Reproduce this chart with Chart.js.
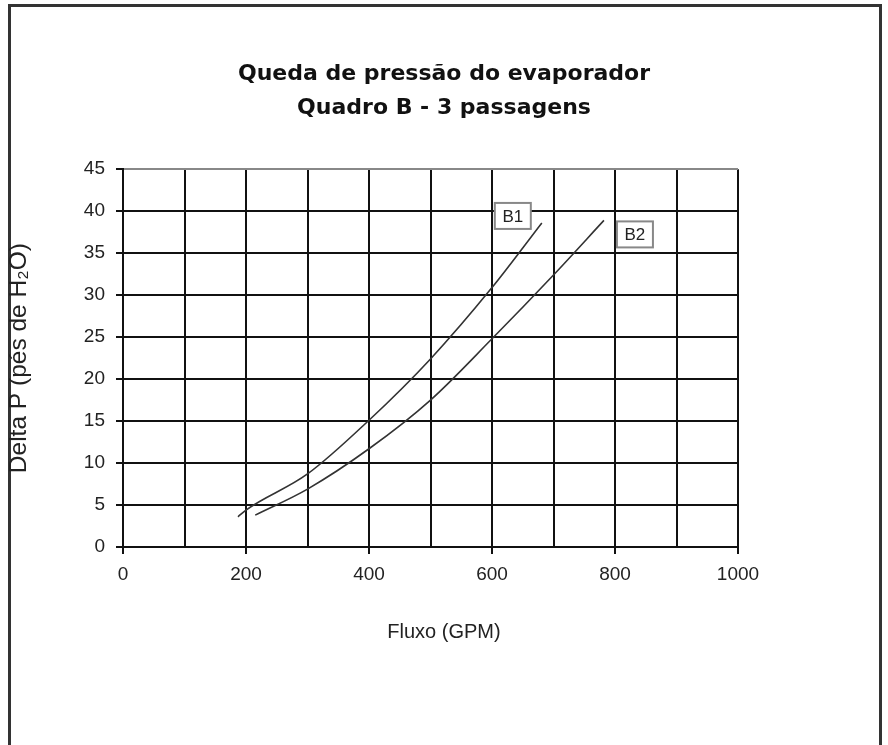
<!DOCTYPE html>
<html>
<head>
<meta charset="utf-8">
<script src="https://cdn.jsdelivr.net/npm/chart.js@4.4.1/dist/chart.umd.min.js"></script>
<style>
  html, body { margin: 0; padding: 0; background: #fff; }
  #wrap { position: relative; width: 888px; height: 745px; overflow: hidden; }
  #frame { position: absolute; left: 8px; top: 4px; width: 874px; height: 800px; border: 3px solid #333; box-sizing: border-box; }
  canvas { position: absolute; left: 0; top: 0; }
</style>
</head>
<body>
<div id="wrap">
  <div id="frame"></div>
  <canvas id="c" width="888" height="745"></canvas>
</div>
<script>
// ---- data ----
const titleLines = ['Queda de pressão do evaporador', 'Quadro B - 3 passagens'];
const xTitle = 'Fluxo (GPM)';
const yTitle = 'Delta P (pés de H\u2082O)';
const seriesNames = ['B1', 'B2'];

const b1Flow  = [187, 200, 300, 400, 500, 600, 681];
const b1Delta = [3.6, 4.4, 8.7, 15.1, 22.4, 30.9, 38.6];

const b2Flow  = [215, 300, 400, 500, 600, 700, 782];
const b2Delta = [3.8, 6.9, 11.7, 17.5, 24.8, 32.4, 38.9];

const xMin = 0, xMax = 1000, xStep = 100, xLabelStep = 200;
const yMin = 0, yMax = 45, yStep = 5;

function toPoints(xs, ys) { return xs.map((x, i) => ({ x: x, y: ys[i] })); }

// series label boxes (anchored to the last point of each curve, offset in px)
const seriesLabelOffsets = [{ dx: -29, dy: -7 }, { dx: 31, dy: 14 }];

const seriesLabelPlugin = {
  id: 'seriesLabels',
  afterDatasetsDraw(chart) {
    const ctx = chart.ctx;
    const xs = chart.scales.x, ys = chart.scales.y;
    chart.data.datasets.forEach((ds, i) => {
      const last = ds.data[ds.data.length - 1];
      const px = xs.getPixelForValue(last.x) + seriesLabelOffsets[i].dx;
      const py = ys.getPixelForValue(last.y) + seriesLabelOffsets[i].dy;
      const w = 36, h = 26;
      ctx.save();
      ctx.fillStyle = '#fff';
      ctx.fillRect(px - w / 2, py - h / 2, w, h);
      ctx.strokeStyle = '#888';
      ctx.lineWidth = 2;
      ctx.strokeRect(px - w / 2, py - h / 2, w, h);
      ctx.fillStyle = '#222';
      ctx.font = '17px "Liberation Sans", Arial, sans-serif';
      ctx.textAlign = 'center';
      ctx.textBaseline = 'middle';
      ctx.fillText(ds.label, px, py + 1);
      ctx.restore();
    });
  }
};

// x axis title centred on the whole figure (as in the reference)
const xTitlePlugin = {
  id: 'xTitleCentered',
  afterDraw(chart) {
    const ctx = chart.ctx;
    ctx.save();
    ctx.fillStyle = '#222';
    ctx.font = '20px "Liberation Sans", Arial, sans-serif';
    ctx.textAlign = 'center';
    ctx.textBaseline = 'middle';
    ctx.fillText(xTitle, chart.width / 2, chart.scales.x.bottom - 113);
    ctx.restore();
  }
};

const gridColor = '#111';

new Chart(document.getElementById('c'), {
  type: 'scatter',
  data: {
    datasets: [
      { label: seriesNames[0], data: toPoints(b1Flow, b1Delta) },
      { label: seriesNames[1], data: toPoints(b2Flow, b2Delta) }
    ].map(d => Object.assign(d, {
      showLine: true,
      borderColor: '#333',
      borderWidth: 1.6,
      pointRadius: 0,
      fill: false,
      cubicInterpolationMode: 'monotone'
    }))
  },
  options: {
    responsive: false,
    animation: false,
    events: [],
    layout: { padding: 0 },
    plugins: {
      legend: { display: false },
      tooltip: { enabled: false },
      title: {
        display: true,
        text: titleLines,
        color: '#111',
        font: { family: '"DejaVu Sans", sans-serif', weight: 'bold', size: 22, lineHeight: 1.55 },
        padding: { top: 57, bottom: 44 }
      }
    },
    scales: {
      x: {
        type: 'linear',
        min: xMin, max: xMax,
        afterFit(s) { s.height = 198; },
        ticks: {
          stepSize: xStep,
          autoSkip: false,
          maxRotation: 0,
          padding: 9,
          color: '#222',
          font: { family: '"Liberation Sans", Arial, sans-serif', size: 19 },
          callback: v => (v % xLabelStep === 0 ? String(v) : '')
        },
        grid: {
          color: gridColor,
          lineWidth: 2,
          tickLength: 7,
          tickColor: c => (c.tick && c.tick.value % xLabelStep === 0 ? gridColor : 'rgba(0,0,0,0)')
        },
        border: { display: true, color: gridColor, width: 2 },
        title: { display: false, text: xTitle }
      },
      y: {
        type: 'linear',
        position: 'left',
        min: yMin, max: yMax,
        afterFit(s) { s.width = 123; },
        ticks: {
          stepSize: yStep,
          padding: 11,
          color: '#222',
          font: { family: '"Liberation Sans", Arial, sans-serif', size: 19 }
        },
        grid: {
          color: c => (c.tick && c.tick.value === yMax ? '#888' : gridColor),
          lineWidth: 2,
          tickLength: 7,
          tickColor: gridColor
        },
        border: { display: true, color: gridColor, width: 2 },
        title: {
          display: true,
          text: yTitle,
          color: '#222',
          font: { family: '"Liberation Sans", Arial, sans-serif', size: 24.5, lineHeight: 1.2 },
          padding: { top: 5, bottom: 0 }
        }
      },
      yRight: {
        type: 'linear',
        position: 'right',
        min: yMin, max: yMax,
        afterFit(s) { s.width = 150; },
        ticks: { display: false },
        grid: { display: false, drawTicks: false },
        border: { display: false },
        title: { display: false }
      }
    }
  },
  plugins: [seriesLabelPlugin, xTitlePlugin]
});
</script>
</body>
</html>
